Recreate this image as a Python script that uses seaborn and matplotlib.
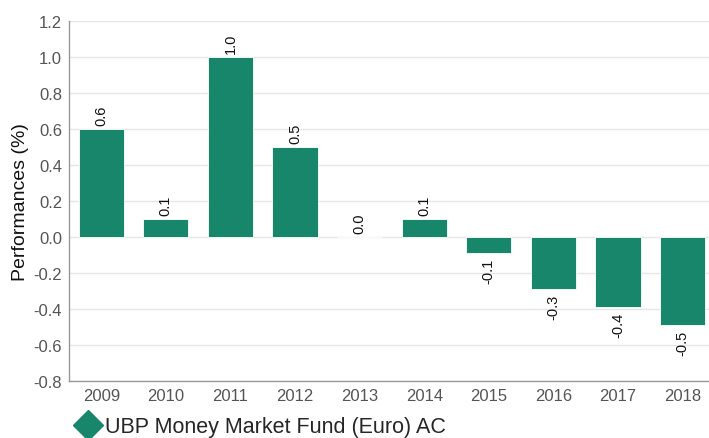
import matplotlib

matplotlib.use("Agg")
import matplotlib.pyplot as plt
from matplotlib.lines import Line2D
import pandas as pd
import seaborn as sns

GREEN = "#17866a"
GRID = "#e6e6e6"
AXIS = "#999999"
TICK = "#555555"

years = ["2009", "2010", "2011", "2012", "2013", "2014", "2015", "2016", "2017", "2018"]
performance = [0.6, 0.1, 1.0, 0.5, 0.0, 0.1, -0.09, -0.29, -0.39, -0.49]
series_name = "UBP Money Market Fund (Euro) AC"
y_ticks = [-0.8, -0.6, -0.4, -0.2, 0.0, 0.2, 0.4, 0.6, 0.8, 1.0, 1.2]


def main() -> None:
    sns.set_theme(style="white")
    plt.rcParams["font.family"] = ["Liberation Sans", "DejaVu Sans"]

    df = pd.DataFrame({"year": years, "perf": performance})

    fig = plt.figure(figsize=(7.09, 4.39), dpi=100)
    ax = fig.add_axes([0.0973, 0.1298, 0.911, 0.820])
    sns.barplot(data=df, x="year", y="perf", color=GREEN, saturation=1, width=0.7,
                edgecolor="#ffffff", linewidth=0.6, ax=ax)

    for container in ax.containers:
        ax.bar_label(container, fmt="%.1f", rotation=90, padding=3, fontsize=10.5, color="#111111")

    ax.set_ylim(-0.8, 1.2)
    ax.set_xlim(-0.5, 9.5)
    ax.set_yticks(y_ticks)
    ax.set_yticklabels([f"{t:.1f}" for t in y_ticks])
    ax.yaxis.grid(True, color=GRID, lw=1)
    ax.set_axisbelow(True)
    ax.tick_params(axis="both", length=0, labelsize=12, colors=TICK, pad=5)
    ax.set_xlabel("")
    ax.set_ylabel("Performances (%)", fontsize=14, color="#111111", labelpad=3)
    for side in ["top", "right"]:
        ax.spines[side].set_visible(False)
    for side in ["left", "bottom"]:
        ax.spines[side].set_color(AXIS)
        ax.spines[side].set_linewidth(1)

    handle = Line2D([], [], marker="D", color=GREEN, linestyle="none", markersize=15)
    fig.legend([handle], [series_name], loc="center left", bbox_to_anchor=(76 / 709, 1 - 428 / 439),
               frameon=False, fontsize=15.5, handletextpad=0.25, borderpad=0, borderaxespad=0,
               handlelength=1.1)

    fig.savefig("out.png", dpi=100)
    plt.close(fig)


if __name__ == "__main__":
    main()
